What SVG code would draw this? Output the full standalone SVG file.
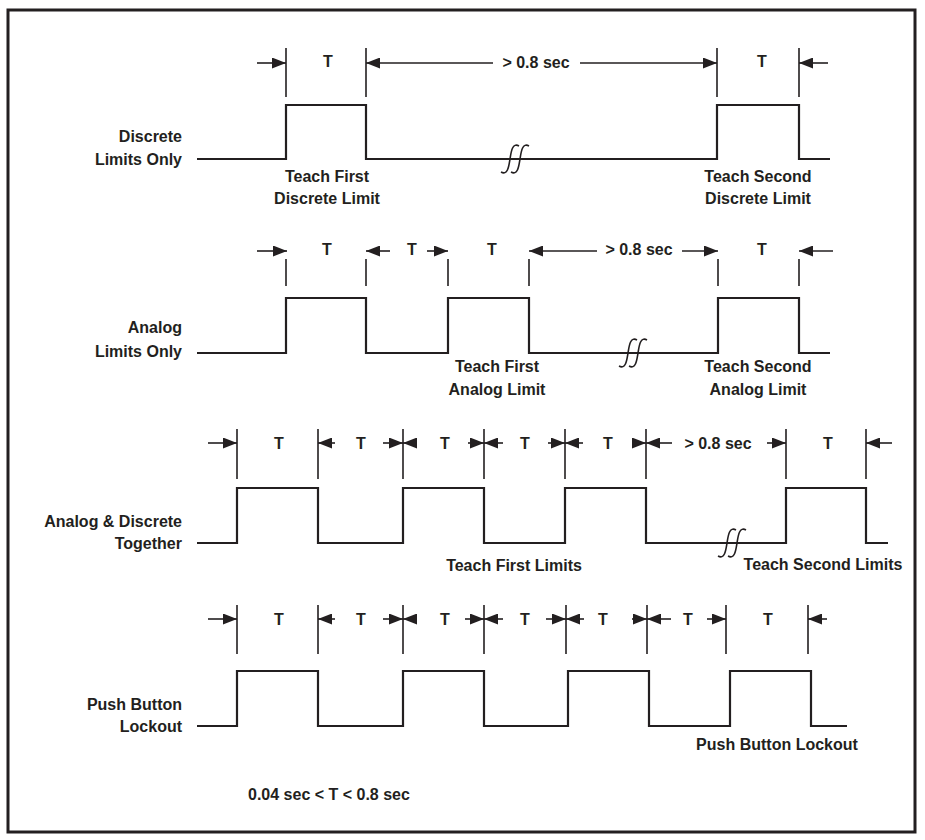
<svg xmlns="http://www.w3.org/2000/svg" width="925" height="840" viewBox="0 0 925 840">
<style>
  .wave{fill:none;stroke:#231f20;stroke-width:2.2;stroke-linejoin:miter}
  .tick{stroke:#231f20;stroke-width:1.6}
  .dim{stroke:#231f20;stroke-width:1.6;marker-end:url(#ah)}
  .brk{fill:none;stroke:#231f20;stroke-width:1.6}
  text{font-family:"Liberation Sans",Arial,sans-serif;font-size:16px;font-weight:bold;fill:#231f20}
  .m{text-anchor:middle}
  .e{text-anchor:end}
</style>
<defs>
  <marker id="ah" viewBox="0 0 14 11" refX="14" refY="5.5" markerWidth="14" markerHeight="11" markerUnits="userSpaceOnUse" orient="auto">
    <path d="M0,0 L14,5.5 L0,11 z" fill="#231f20"/>
  </marker>
  <path id="brk" class="brk" d="M-13,13 C-6,17 -5,6 -4,0 C-3,-6 -2,-17 5,-13 M-3,13 C4,17 5,6 6,0 C7,-6 8,-17 15,-13"/>
</defs>
<rect x="8" y="10" width="907" height="822" fill="#ffffff" stroke="#231f20" stroke-width="3"/>

<g id="row-discrete">
  <text class="e" x="182" y="142">Discrete</text>
  <text class="e" x="182" y="165">Limits Only</text>
  <path class="wave" d="M197,159 H286 V105 H366 V159 H717 V105 H799 V159 H830"/>
  <use href="#brk" x="514" y="159"/>
  <line class="tick" x1="286" y1="48" x2="286" y2="97"/>
  <line class="tick" x1="366" y1="48" x2="366" y2="97"/>
  <line class="tick" x1="717" y1="48" x2="717" y2="97"/>
  <line class="tick" x1="799" y1="48" x2="799" y2="97"/>
  <text class="m" x="328" y="67">T</text>
  <text class="m" x="536" y="68">&gt; 0.8 sec</text>
  <text class="m" x="762" y="67">T</text>
  <text class="m" x="327" y="182">Teach First</text>
  <text class="m" x="327" y="204">Discrete Limit</text>
  <text class="m" x="758" y="182">Teach Second</text>
  <text class="m" x="758" y="204">Discrete Limit</text>
</g>

<g id="row-analog">
  <text class="e" x="182" y="333">Analog</text>
  <text class="e" x="182" y="357">Limits Only</text>
  <path class="wave" d="M197,353 H286 V298 H366 V353 H448 V298 H529 V353 H718 V298 H799 V353 H830"/>
  <use href="#brk" x="632" y="353"/>
  <line class="tick" x1="286" y1="259" x2="286" y2="286"/>
  <line class="tick" x1="366" y1="259" x2="366" y2="286"/>
  <line class="tick" x1="448" y1="259" x2="448" y2="286"/>
  <line class="tick" x1="529" y1="259" x2="529" y2="286"/>
  <line class="tick" x1="718" y1="259" x2="718" y2="286"/>
  <line class="tick" x1="799" y1="259" x2="799" y2="286"/>
  <text class="m" x="327" y="255">T</text>
  <text class="m" x="412" y="255">T</text>
  <text class="m" x="492" y="255">T</text>
  <text class="m" x="639" y="255">&gt; 0.8 sec</text>
  <text class="m" x="762" y="255">T</text>
  <text class="m" x="497" y="372">Teach First</text>
  <text class="m" x="497" y="395">Analog Limit</text>
  <text class="m" x="758" y="372">Teach Second</text>
  <text class="m" x="758" y="395">Analog Limit</text>
</g>

<g id="row-together">
  <text class="e" x="182" y="527">Analog &amp; Discrete</text>
  <text class="e" x="182" y="549">Together</text>
  <path class="wave" d="M197,543 H237 V488 H318 V543 H403 V488 H484 V543 H565 V488 H646 V543 H786 V488 H866 V543 H888"/>
  <use href="#brk" x="731" y="543"/>
  <line class="tick" x1="237" y1="429" x2="237" y2="479"/>
  <line class="tick" x1="318" y1="429" x2="318" y2="479"/>
  <line class="tick" x1="403" y1="429" x2="403" y2="479"/>
  <line class="tick" x1="484" y1="429" x2="484" y2="479"/>
  <line class="tick" x1="565" y1="429" x2="565" y2="479"/>
  <line class="tick" x1="646" y1="429" x2="646" y2="479"/>
  <line class="tick" x1="786" y1="429" x2="786" y2="479"/>
  <line class="tick" x1="866" y1="429" x2="866" y2="479"/>
  <text class="m" x="279" y="449">T</text>
  <text class="m" x="361" y="449">T</text>
  <text class="m" x="445" y="449">T</text>
  <text class="m" x="525" y="449">T</text>
  <text class="m" x="608" y="449">T</text>
  <text class="m" x="718" y="449">&gt; 0.8 sec</text>
  <text class="m" x="828" y="449">T</text>
  <text class="m" x="514" y="571">Teach First Limits</text>
  <text class="m" x="823" y="570">Teach Second Limits</text>
</g>

<g id="row-lockout">
  <text class="e" x="182" y="710">Push Button</text>
  <text class="e" x="182" y="732">Lockout</text>
  <path class="wave" d="M197,726 H237 V671 H318 V726 H403 V671 H484 V726 H568 V671 H649 V726 H730 V671 H811 V726 H847"/>
  <line class="tick" x1="237" y1="605" x2="237" y2="654"/>
  <line class="tick" x1="318" y1="605" x2="318" y2="654"/>
  <line class="tick" x1="403" y1="605" x2="403" y2="654"/>
  <line class="tick" x1="484" y1="605" x2="484" y2="654"/>
  <line class="tick" x1="566" y1="605" x2="566" y2="654"/>
  <line class="tick" x1="647" y1="605" x2="647" y2="654"/>
  <line class="tick" x1="726" y1="605" x2="726" y2="654"/>
  <line class="tick" x1="808" y1="605" x2="808" y2="654"/>
  <text class="m" x="279" y="625">T</text>
  <text class="m" x="361" y="625">T</text>
  <text class="m" x="445" y="625">T</text>
  <text class="m" x="525" y="625">T</text>
  <text class="m" x="603" y="625">T</text>
  <text class="m" x="688" y="625">T</text>
  <text class="m" x="768" y="625">T</text>
  <text class="m" x="777" y="750">Push Button Lockout</text>
</g>

<g id="note">
  <text x="248" y="800">0.04 sec &lt; T &lt; 0.8 sec</text>
</g>

<g id="connectors">
  <line class="dim" x1="257" y1="63" x2="286" y2="63"/>
  <line class="dim" x1="493" y1="63" x2="366" y2="63"/>
  <line class="dim" x1="580" y1="63" x2="717" y2="63"/>
  <line class="dim" x1="828" y1="63" x2="799" y2="63"/>

  <line class="dim" x1="257" y1="251" x2="287" y2="251"/>
  <line class="dim" x1="390" y1="251" x2="366" y2="251"/>
  <line class="dim" x1="427" y1="251" x2="448" y2="251"/>
  <line class="dim" x1="597" y1="251" x2="529" y2="251"/>
  <line class="dim" x1="682" y1="251" x2="718" y2="251"/>
  <line class="dim" x1="833" y1="251" x2="799" y2="251"/>

  <line class="dim" x1="208" y1="443" x2="237" y2="443"/>
  <line class="dim" x1="335" y1="443" x2="318" y2="443"/>
  <line class="dim" x1="383" y1="443" x2="403" y2="443"/>
  <line class="dim" x1="414" y1="443" x2="403" y2="443"/>
  <line class="dim" x1="468" y1="443" x2="484" y2="443"/>
  <line class="dim" x1="503" y1="443" x2="484" y2="443"/>
  <line class="dim" x1="548" y1="443" x2="565" y2="443"/>
  <line class="dim" x1="583" y1="443" x2="565" y2="443"/>
  <line class="dim" x1="633" y1="443" x2="646" y2="443"/>
  <line class="dim" x1="672" y1="443" x2="646" y2="443"/>
  <line class="dim" x1="767" y1="443" x2="786" y2="443"/>
  <line class="dim" x1="892" y1="443" x2="866" y2="443"/>

  <line class="dim" x1="208" y1="619" x2="237" y2="619"/>
  <line class="dim" x1="335" y1="619" x2="318" y2="619"/>
  <line class="dim" x1="383" y1="619" x2="403" y2="619"/>
  <line class="dim" x1="417" y1="619" x2="403" y2="619"/>
  <line class="dim" x1="465" y1="619" x2="484" y2="619"/>
  <line class="dim" x1="503" y1="619" x2="484" y2="619"/>
  <line class="dim" x1="546" y1="619" x2="566" y2="619"/>
  <line class="dim" x1="584" y1="619" x2="566" y2="619"/>
  <line class="dim" x1="632" y1="619" x2="647" y2="619"/>
  <line class="dim" x1="671" y1="619" x2="647" y2="619"/>
  <line class="dim" x1="707" y1="619" x2="726" y2="619"/>
  <line class="dim" x1="827" y1="619" x2="808" y2="619"/>
</g>
</svg>
